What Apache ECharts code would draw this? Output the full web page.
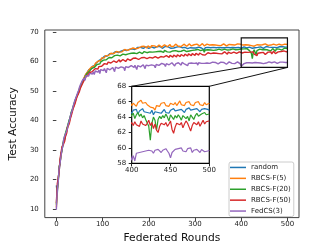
<!DOCTYPE html>
<html><head><meta charset="utf-8">
<script src="https://cdn.jsdelivr.net/npm/echarts@6/dist/echarts.min.js"></script>
<style>html,body{margin:0;padding:0;background:#fff}#c{width:332px;height:249px}</style>
</head><body><div id="c"></div>
<script>
// rounds sampled every 2 rounds: 0,2,...,500
const rounds = Array.from({length: 251}, (_, i) => i * 2);
const seriesNames = ['random', 'RBCS-F(5)', 'RBCS-F(20)', 'RBCS-F(50)', 'FedCS(3)'];
const xTicks = [0, 100, 200, 300, 400, 500];
const yTicks = [10, 20, 30, 40, 50, 60, 70];

const randomAcc = [
18.0,15.2,20.1,22.9,25.8,28.4,29.6,31.7,32.8,33.6,
35.0,36.6,36.9,38.8,39.2,41.3,41.9,43.4,43.8,45.3,
45.8,47.2,47.6,49.0,49.3,50.4,51.6,52.0,53.1,53.4,
54.3,55.2,55.4,56.1,56.3,57.2,57.0,57.8,57.6,58.4,
58.3,58.9,58.8,59.5,59.3,59.9,60.3,60.0,60.8,60.9,
61.3,60.9,61.8,61.5,62.1,61.9,62.4,62.3,62.7,62.4,
62.9,62.6,63.1,62.9,63.4,62.9,63.3,63.0,63.6,63.3,
63.5,63.7,63.4,63.9,63.6,64.0,63.7,64.3,63.8,64.1,
64.4,63.9,64.3,64.0,64.6,64.1,64.5,64.2,64.8,64.3,
64.5,64.8,64.3,64.9,64.5,64.7,64.4,65.0,64.6,64.8,
64.5,64.9,64.6,65.0,64.7,65.2,64.6,64.9,64.5,65.1,
64.8,64.6,65.1,64.7,65.0,64.5,64.9,64.7,65.2,64.8,
64.6,65.0,64.7,64.9,64.5,65.1,64.8,64.6,65.0,64.7,
64.9,64.5,64.8,65.1,64.6,64.9,64.7,65.0,64.5,64.8,
64.6,64.9,64.4,64.8,65.0,64.7,64.5,64.9,64.6,64.8,
65.0,64.6,64.8,64.4,64.9,64.7,65.1,64.6,64.8,64.5,
64.0,64.7,64.9,64.6,64.8,65.0,64.5,64.7,64.9,64.6,
64.8,64.5,64.9,64.7,65.0,64.6,64.8,64.4,64.9,64.7,
64.6,64.9,64.7,65.1,64.5,64.8,64.6,64.9,64.7,65.0,
64.6,64.8,64.5,64.9,64.7,65.0,64.6,64.8,64.9,64.7,
64.5,64.9,64.7,65.0,64.4,64.8,64.6,65.1,64.7,64.9,
64.6,64.8,64.5,64.9,64.3,64.7,64.9,64.6,64.8,64.5,
64.7,65.0,64.6,64.8,64.5,64.9,64.7,65.1,64.8,64.6,
64.9,64.7,65.0,64.8,64.6,65.0,64.8,65.2,64.9,64.7,
65.0,64.8,65.1,64.9,64.7,65.0,64.8,65.1,64.9,65.0,
64.9];

const rbcs5Acc = [
10.5,16.0,19.5,23.8,26.2,27.5,30.4,31.0,33.1,34.2,
35.3,36.0,37.4,38.1,39.6,40.8,42.3,42.9,44.1,45.0,
46.2,46.8,47.9,48.5,49.6,50.8,51.2,52.4,52.9,53.8,
54.6,54.9,55.8,55.5,56.6,56.9,57.5,57.3,58.2,58.0,
58.7,58.4,59.3,59.0,59.8,60.1,59.7,60.6,60.4,61.2,
61.0,61.6,61.3,62.0,61.7,62.3,62.0,62.6,62.2,62.8,
62.5,63.0,62.7,63.2,62.8,63.4,63.1,63.6,63.2,63.5,
63.8,63.3,63.9,63.5,64.1,63.6,64.2,63.8,64.4,63.9,
64.2,64.5,63.9,64.6,64.2,64.7,64.3,64.9,64.4,64.6,
64.9,64.5,65.1,64.6,64.8,65.2,64.7,65.0,64.6,65.3,
64.9,65.1,64.7,65.4,65.0,64.8,65.3,65.0,65.5,64.9,
65.2,65.6,65.0,65.3,64.9,65.5,65.1,65.7,65.2,65.4,
65.0,65.6,65.3,65.8,65.1,65.4,65.7,65.2,65.5,65.9,
65.3,65.6,65.2,65.8,65.4,65.1,65.7,65.5,65.9,65.3,
65.6,65.2,65.8,65.4,66.0,65.5,65.3,65.8,65.4,65.7,
65.2,65.6,65.9,65.4,65.7,65.3,65.8,65.5,66.1,65.6,
65.3,65.7,65.5,65.9,65.4,65.8,65.6,66.0,65.5,65.7,
65.4,65.9,65.6,65.3,65.8,65.5,66.1,65.7,65.4,65.8,
65.6,66.0,65.5,65.7,65.3,65.9,65.6,65.8,65.4,66.0,
65.7,65.5,65.9,65.6,65.8,65.4,66.0,65.7,65.5,65.9,
65.5,65.8,65.6,65.4,65.9,65.7,66.2,65.8,65.6,65.9,
65.6,65.4,65.3,65.5,65.2,64.9,65.5,65.7,65.4,65.8,
65.6,65.9,65.5,65.7,65.4,65.8,66.0,65.6,65.9,65.5,
65.7,66.1,65.6,65.8,65.5,65.9,65.7,66.0,65.6,65.8,
65.5,65.9,65.7,66.0,65.6,65.8,65.5,65.9,65.6,65.7,
65.8];

const rbcs20Acc = [
11.5,17.0,19.0,24.5,25.2,28.9,29.8,32.0,33.5,34.8,
34.6,36.9,38.0,38.6,40.3,41.0,42.8,43.6,44.5,45.6,
46.0,47.5,47.3,48.9,49.9,50.2,51.5,51.8,52.7,53.2,
54.0,54.7,55.1,55.9,55.8,56.5,56.8,57.1,57.6,57.5,
58.1,58.0,58.6,58.4,59.0,58.8,59.4,59.2,59.9,59.6,
60.2,60.5,60.1,60.9,60.6,61.2,60.8,61.4,61.0,61.6,
61.3,61.8,61.4,62.0,61.5,61.9,62.2,61.7,62.3,61.9,
62.4,62.0,62.5,62.2,62.7,62.3,62.8,62.4,62.6,62.9,
62.5,62.8,63.0,62.6,62.9,62.4,63.1,62.7,63.0,62.8,
63.2,62.9,63.3,62.7,63.1,63.4,62.9,63.2,63.0,63.5,
63.1,63.3,62.8,63.4,63.2,63.6,63.0,63.3,63.5,63.1,
63.4,63.7,63.2,63.5,63.3,63.6,63.1,63.8,63.4,63.6,
63.3,63.7,63.5,63.2,63.8,63.4,63.6,63.9,63.3,63.7,
63.5,63.8,63.4,63.6,64.0,63.5,63.7,63.3,63.9,63.6,
63.8,63.4,63.7,64.0,63.6,63.9,63.5,63.8,64.1,63.7,
63.9,63.5,63.8,64.1,63.6,63.9,63.7,64.2,63.8,64.0,
63.2,63.9,64.1,63.7,64.0,63.8,64.2,63.9,63.6,64.1,
63.8,64.0,64.3,63.9,64.1,63.7,64.2,64.0,64.3,63.9,
64.1,63.8,64.2,64.0,64.4,63.9,64.1,64.3,64.0,64.2,
63.9,64.3,64.1,64.4,64.0,64.2,64.5,64.1,64.3,64.0,
64.2,64.5,63.8,64.3,64.6,64.1,64.4,63.9,64.2,63.7,
63.5,62.8,61.0,63.2,64.0,63.6,62.3,63.7,64.1,63.8,
64.2,63.9,64.4,64.0,63.5,64.3,64.1,63.7,64.2,63.9,
64.3,64.0,63.6,64.2,64.4,63.8,64.1,63.5,64.3,64.0,
63.7,64.2,64.5,64.1,63.9,64.4,64.2,64.6,64.3,64.5,
64.4];

const rbcs50Acc = [
12.0,18.5,18.2,22.5,27.0,26.8,31.0,30.5,32.2,33.0,
34.8,35.5,37.8,37.6,39.0,40.5,41.5,42.6,43.9,44.8,
45.5,46.6,47.8,48.2,49.2,49.9,51.0,51.6,52.3,53.0,
53.6,54.1,54.8,54.6,55.5,55.7,56.3,56.0,56.8,56.6,
57.2,57.0,57.6,57.3,57.9,57.5,58.3,58.0,58.6,58.4,
59.0,58.7,59.3,58.9,59.5,59.1,59.8,59.3,59.9,59.5,
60.1,59.6,60.2,59.8,60.4,59.7,60.3,60.0,60.6,59.9,
60.5,60.1,60.7,60.2,60.8,60.0,60.6,60.9,60.3,60.8,
60.4,61.0,60.6,61.1,60.5,60.9,61.2,60.6,61.0,60.7,
61.2,60.8,61.3,60.7,61.1,61.4,60.9,61.3,61.0,61.5,
61.1,61.4,60.9,61.6,61.2,61.5,61.0,61.7,61.3,61.6,
61.2,61.8,61.4,61.7,61.1,61.9,61.5,61.8,61.3,62.0,
61.6,61.9,61.4,62.1,61.7,62.0,61.5,62.2,61.8,62.0,
61.6,62.3,61.9,62.1,61.7,62.4,62.0,62.2,61.8,62.5,
62.1,62.3,61.9,62.6,62.2,62.4,62.0,62.7,62.3,62.5,
62.1,62.8,62.4,62.6,62.2,62.9,62.5,62.7,62.3,62.9,
62.5,62.2,62.8,62.6,63.0,62.4,62.9,62.7,63.1,62.5,
62.9,62.6,63.1,62.8,62.4,63.0,62.7,63.2,62.9,62.6,
63.1,62.8,63.3,62.7,63.0,62.5,63.2,62.9,63.3,62.8,
63.0,62.6,63.2,62.9,63.4,62.8,63.1,62.7,63.3,63.0,
63.3,62.9,63.4,63.0,63.2,62.8,63.5,63.1,63.3,62.9,
63.2,63.6,62.9,63.3,62.5,63.1,62.3,62.0,62.8,63.2,
63.4,63.0,63.3,62.8,63.1,63.5,62.4,61.9,62.7,63.2,
63.4,63.0,63.3,62.6,63.1,63.5,63.2,62.7,62.2,62.9,
63.3,63.5,63.0,63.4,62.8,63.2,63.6,63.1,63.4,63.3,
63.5];

const fedcs3Acc = [
9.8,16.5,19.2,24.0,25.5,28.0,30.0,31.5,33.8,34.0,
35.6,36.3,37.2,38.9,39.8,41.2,42.5,43.2,44.6,45.8,
46.8,47.4,48.5,49.4,50.2,51.3,52.1,52.6,53.5,53.2,
54.4,53.6,55.2,54.8,55.6,55.1,56.0,55.4,56.2,55.8,
56.5,55.6,56.8,56.2,57.0,56.4,57.1,55.9,57.3,56.8,
57.5,56.9,57.6,57.1,56.2,57.7,57.3,57.9,57.2,57.8,
57.4,58.0,57.5,56.6,58.1,57.6,58.2,57.7,58.0,57.3,
58.2,57.8,58.4,57.9,56.9,58.3,57.9,58.5,58.0,58.4,
57.6,58.6,58.1,58.5,58.0,58.7,58.2,57.3,58.6,58.3,
58.8,58.2,58.7,58.4,58.9,58.3,57.6,58.8,58.5,59.0,
58.6,59.1,58.5,58.9,58.7,59.2,58.6,57.9,59.0,58.8,
59.3,58.7,59.1,58.9,59.4,58.8,59.2,59.0,58.3,59.3,
59.0,59.5,58.9,59.3,59.1,59.6,59.0,59.4,58.5,59.2,
59.5,59.1,59.6,59.2,59.4,58.8,59.7,59.3,59.5,59.1,
59.6,59.2,58.6,59.4,59.7,59.3,59.5,59.0,59.6,59.4,
59.7,59.2,59.5,58.8,59.6,59.3,59.8,59.4,59.1,59.6,
59.4,59.8,59.3,59.5,58.9,59.7,59.4,59.6,59.2,59.8,
59.5,59.3,59.7,59.4,59.9,59.2,59.6,59.4,59.8,59.5,
59.3,59.7,59.5,59.8,59.1,59.6,59.4,59.9,59.5,59.7,
59.4,59.8,59.6,59.3,59.7,59.5,59.9,59.4,59.6,59.2,
58.4,59.0,58.3,59.3,59.5,59.4,59.6,59.5,59.3,59.6,
59.4,59.7,59.5,59.6,59.3,59.7,59.5,59.8,59.6,59.4,
59.7,59.5,59.9,59.6,59.3,58.7,59.4,59.5,59.8,59.6,
59.9,59.7,60.0,59.6,59.8,59.5,59.9,59.7,60.0,59.4,
59.7,59.5,59.8,59.6,59.4,59.8,59.6,59.5,59.7,59.6,
59.7];

const allValues = [randomAcc, rbcs5Acc, rbcs20Acc, rbcs50Acc, fedcs3Acc];
const colors = ['#1f77b4', '#ff7f0e', '#2ca02c', '#d62728', '#9467bd'];
const FONT = 'DejaVu Sans';

const chart = echarts.init(document.getElementById('c'), null, {renderer: 'canvas'});
const series = [];
allValues.forEach((vals, k) => {
  const pts = rounds.map((r, i) => [r, vals[i]]);
  series.push({
    name: seriesNames[k], type: 'line', xAxisIndex: 0, yAxisIndex: 0,
    data: pts, showSymbol: false, symbol: 'none', z: 2,
    lineStyle: {color: colors[k], width: 1.4}, itemStyle: {color: colors[k]}
  });
});
allValues.forEach((vals, k) => {
  const pts = rounds.map((r, i) => [r, vals[i]]);
  series.push({
    name: seriesNames[k], type: 'line', xAxisIndex: 1, yAxisIndex: 1,
    data: pts, showSymbol: false, symbol: 'none', clip: true, z: 20,
    lineStyle: {color: colors[k], width: 1.2}, itemStyle: {color: colors[k]}
  });
});

const tickLabel = {fontSize: 7, color: '#1a1a1a', fontFamily: FONT};
chart.setOption({
  animation: false,
  backgroundColor: '#fff',
  grid: [
    {left: 42, top: 30, width: 257, height: 191, show: true, borderColor: '#444', borderWidth: 1, backgroundColor: 'transparent', z: 0},
    {left: 131.7, top: 86.3, width: 77.6, height: 77, show: true, borderColor: '#000', borderWidth: 1.2, backgroundColor: '#fff', z: 10}
  ],
  xAxis: [
    {type: 'value', gridIndex: 0, min: -25, max: 525,
     name: 'Federated Rounds', nameLocation: 'middle', nameGap: 15,
     nameTextStyle: {fontSize: 10.7, color: '#111', fontFamily: FONT},
     axisLine: {show: false}, splitLine: {show: false},
     axisTick: {show: true, length: 3.5, customValues: xTicks, lineStyle: {color: '#444'}},
     axisLabel: Object.assign({margin: 3.5, customValues: xTicks}, tickLabel)},
    {type: 'value', gridIndex: 1, min: 400, max: 500, interval: 50, z: 21,
     axisLine: {show: false}, splitLine: {show: false},
     axisTick: {show: true, length: 3, lineStyle: {color: '#222'}},
     axisLabel: Object.assign({margin: 3.5}, tickLabel)}
  ],
  yAxis: [
    {type: 'value', gridIndex: 0, min: 7.1, max: 70.7,
     name: 'Test Accuracy', nameLocation: 'middle', nameGap: 17,
     nameTextStyle: {fontSize: 10.7, color: '#111', fontFamily: FONT},
     axisLine: {show: false}, splitLine: {show: false},
     axisTick: {show: true, length: 3.5, customValues: yTicks, lineStyle: {color: '#444'}},
     axisLabel: Object.assign({margin: 6, customValues: yTicks}, tickLabel)},
    {type: 'value', gridIndex: 1, min: 58, max: 68, interval: 2, z: 21,
     axisLine: {show: false}, splitLine: {show: false},
     axisTick: {show: true, length: 3, lineStyle: {color: '#222'}},
     axisLabel: Object.assign({margin: 5.5}, tickLabel)}
  ],
  legend: {
    orient: 'vertical', left: 229, top: 162, itemWidth: 16, itemHeight: 1.5, itemGap: 0,
    icon: 'rect', padding: [0, 3, 0, 1], borderColor: '#ccc', borderWidth: 1, borderRadius: 2,
    backgroundColor: '#fff', z: 30,
    textStyle: {fontSize: 7, lineHeight: 10.9, color: '#1a1a1a', fontFamily: FONT},
    data: seriesNames
  },
  series: series
});

// zoom box and connector lines, placed through the axes' own scales
const a = chart.convertToPixel({gridIndex: 0}, [400, 68]);
const b = chart.convertToPixel({gridIndex: 0}, [500, 58]);
const c1 = chart.convertToPixel({gridIndex: 1}, [400, 68]);
const c2 = chart.convertToPixel({gridIndex: 1}, [500, 68]);
chart.setOption({
  graphic: [
    {type: 'rect', z: 50, shape: {x: a[0], y: a[1], width: b[0] - a[0], height: b[1] - a[1]},
     style: {fill: 'none', stroke: '#111', lineWidth: 1.2}},
    {type: 'line', z: 50, shape: {x1: a[0], y1: b[1], x2: c1[0], y2: c1[1]},
     style: {stroke: '#111', lineWidth: 1}},
    {type: 'line', z: 50, shape: {x1: b[0], y1: b[1], x2: c2[0], y2: c2[1]},
     style: {stroke: '#111', lineWidth: 1}}
  ]
});
</script>
</body></html>
